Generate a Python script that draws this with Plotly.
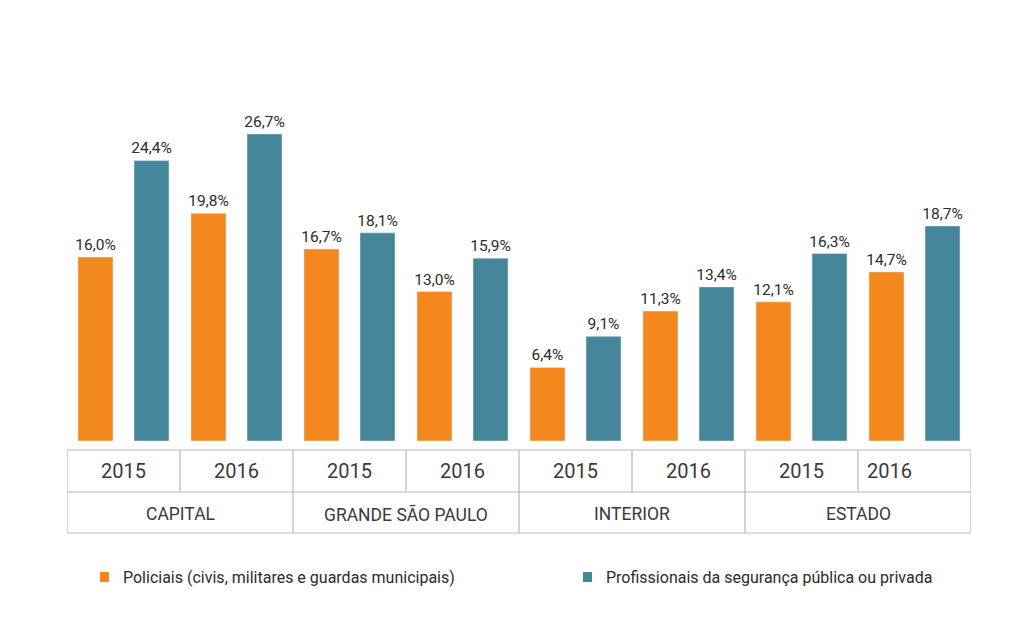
import plotly.graph_objects as go

# ---- data ----
regions = ["CAPITAL", "GRANDE SÃO PAULO", "INTERIOR", "ESTADO"]
years = ["2015", "2016", "2015", "2016", "2015", "2016", "2015", "2016"]
policiais = [16.0, 19.8, 16.7, 13.0, 6.4, 11.3, 12.1, 14.7]
profissionais = [24.4, 26.7, 18.1, 15.9, 9.1, 13.4, 16.3, 18.7]
series_names = ["Policiais (civis, militares e guardas municipais)",
                "Profissionais da segurança pública ou privada"]

ORANGE = "#F3891E"
TEAL = "#46869A"
TXT = "#2b2b2b"
GRID = "#b9b9b9"
FONT = "Roboto, sans-serif"

OFF = 8  # page body margin
W, H = 1024 - 2 * OFF, 623 - 2 * OFF
def px(pix):
    return (pix - OFF) / W
def py(pix):
    return 1 - (pix - OFF) / H

xs = list(range(len(years)))

fig = go.Figure()
bw = 0.31
for vals, col, off, name in [(policiais, ORANGE, -0.248, series_names[0]),
                             (profissionais, TEAL, 0.248, series_names[1])]:
    fig.add_trace(go.Bar(x=xs, y=vals, name=name, marker_color=col,
                         width=bw, offset=off - bw / 2,
                         texttemplate="%{y:.1f}%", textposition="outside",
                         constraintext="none",
                         textfont=dict(family=FONT, size=15.5, color=TXT), cliponaxis=False))

shapes = []
line = dict(color=GRID, width=1.2)
y_top, y_mid, y_bot = py(450), py(492), py(533)
shapes.append(dict(type="rect", xref="x", yref="paper", x0=-0.5, x1=len(years) - 0.5,
                   y0=y_bot, y1=y_top, line=line))
shapes.append(dict(type="line", xref="x", yref="paper", x0=-0.5, x1=len(years) - 0.5,
                   y0=y_mid, y1=y_mid, line=line))
for i in range(len(years) - 1):
    full = (i % 2 == 1)
    shapes.append(dict(type="line", xref="x", yref="paper", x0=i + 0.5, x1=i + 0.5,
                       y0=y_bot if full else y_mid, y1=y_top, line=line))

annotations = []
for i, yr in enumerate(years):
    xx = i - 0.22 if i == len(years) - 1 else i
    annotations.append(dict(x=xx, y=py(471), xref="x", yref="paper", text=yr, showarrow=False,
                            yanchor="middle",
                            font=dict(family=FONT, size=20, color="#3a3a3a")))
for g, reg in enumerate(regions):
    annotations.append(dict(x=2 * g + 0.5, y=py(514), xref="x", yref="paper",
                            text=reg, showarrow=False, yanchor="middle",
                            font=dict(family=FONT, size=17.5, color="#3a3a3a")))

leg = [(100, 121, ORANGE, series_names[0]), (583, 604, TEAL, series_names[1])]
for sx, tx, col, name in leg:
    shapes.append(dict(type="rect", xref="paper", yref="paper",
                       x0=px(sx), x1=px(sx + 9), y0=py(582), y1=py(572),
                       fillcolor=col, line=dict(width=0)))
    annotations.append(dict(x=px(tx), y=py(577), xref="paper", yref="paper", text=name,
                            showarrow=False, xanchor="left", yanchor="middle",
                            font=dict(family=FONT, size=16, color=TXT)))

fig.update_layout(
    width=W, height=H, margin=dict(l=0, r=0, t=0, b=0),
    paper_bgcolor="white", plot_bgcolor="white",
    separators=",.", showlegend=False, barmode="overlay",
    xaxis=dict(domain=[px(67), px(971)], range=[-0.5, len(years) - 0.5],
               visible=False, fixedrange=True),
    yaxis=dict(domain=[py(441), py(60)], range=[0, 381 / 11.5], visible=False),
    shapes=shapes, annotations=annotations,
)
fig.write_html("out.html")
